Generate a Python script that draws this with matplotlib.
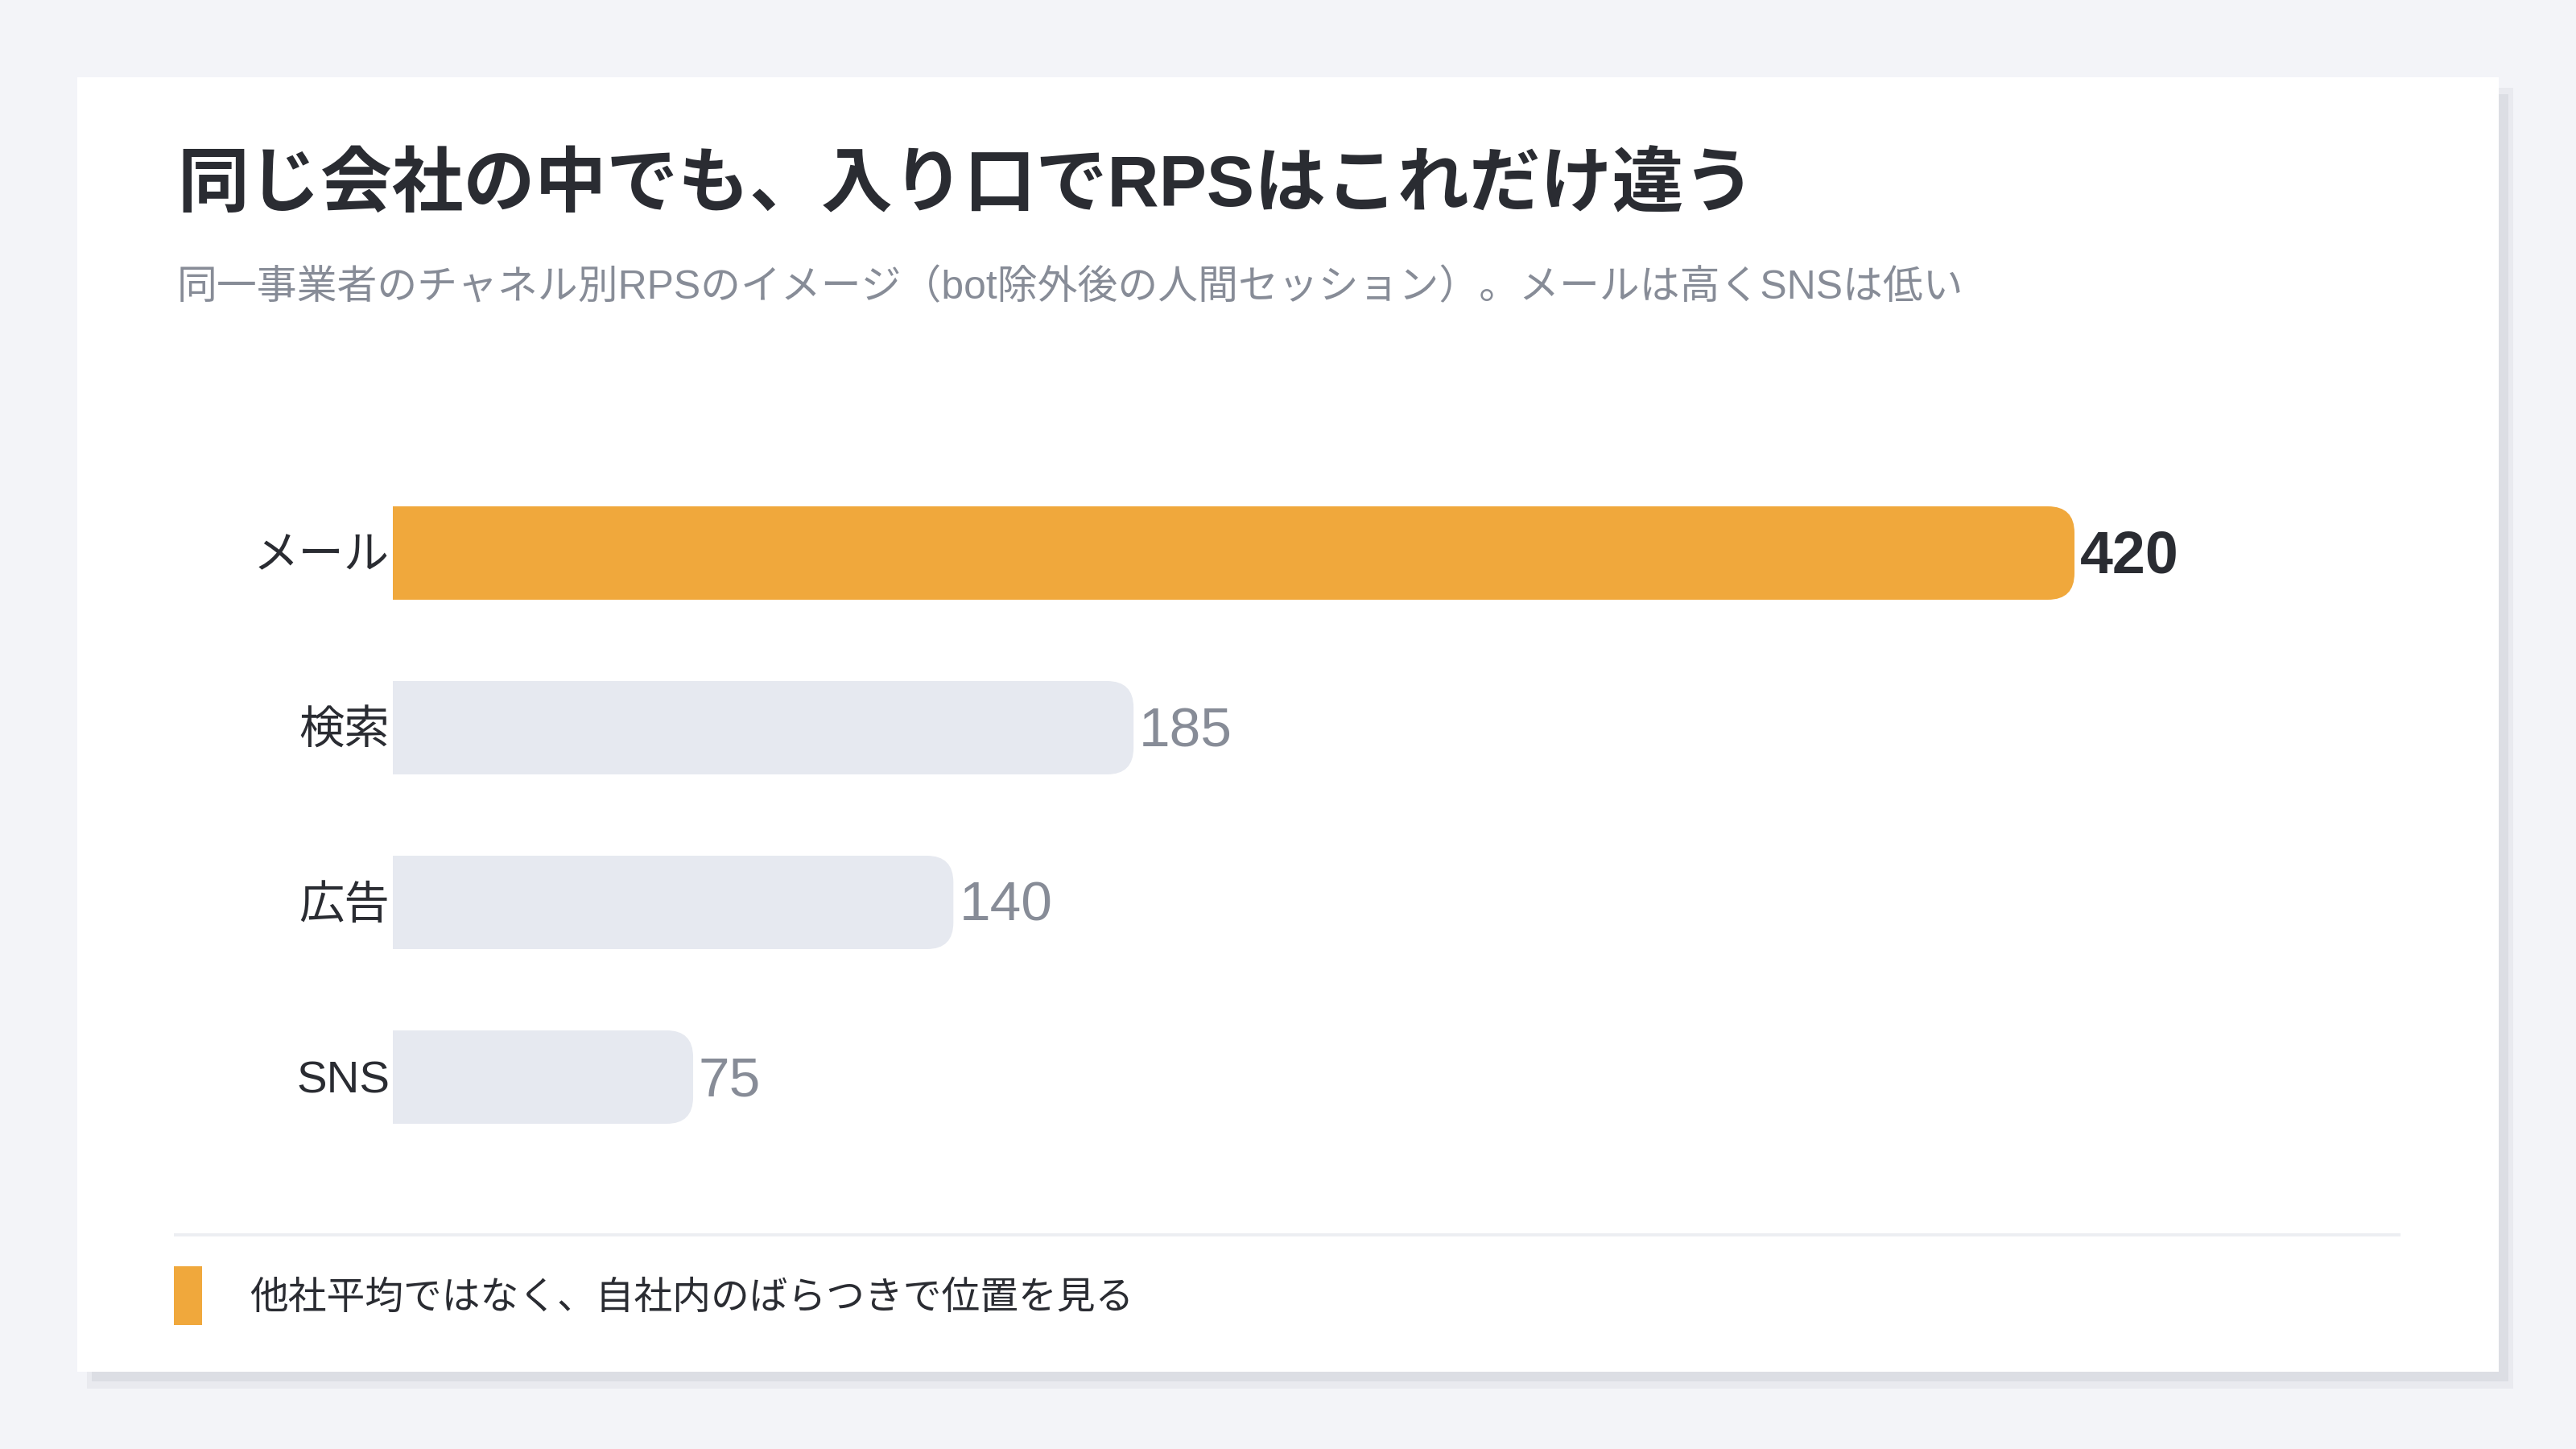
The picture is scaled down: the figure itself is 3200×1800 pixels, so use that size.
import numpy as np
import matplotlib.pyplot as plt
from matplotlib.patches import Rectangle, FancyBboxPatch

plt.rcParams['font.family'] = ['Liberation Sans', 'Noto Sans CJK JP', 'DejaVu Sans']

# data
channels = ['メール', '検索', '広告', 'SNS']
rps = [420, 185, 140, 75]
highlight = 'メール'

title = '同じ会社の中でも、入り口でRPSはこれだけ違う'
subtitle = '同一事業者のチャネル別RPSのイメージ（bot除外後の人間セッション）。メールは高くSNSは低い'
footnote = '他社平均ではなく、自社内のばらつきで位置を見る'

# colours
BG = '#f3f4f8'
ORANGE = '#f0a83c'
GREY_BAR = '#e6e9f0'
DARK = '#2a2c32'
MUTED = '#878c97'

W, H, DPI = 3200, 1800, 200
fig = plt.figure(figsize=(W / DPI, H / DPI), dpi=DPI, facecolor=BG)

# background layer in pixel units
bg = fig.add_axes([0, 0, 1, 1])
bg.set_xlim(0, W)
bg.set_ylim(H, 0)
bg.axis('off')

# card with soft shadow
bg.add_patch(Rectangle((108, 109), 3014, 1616, facecolor='#e9eaef', edgecolor='none'))
bg.add_patch(Rectangle((114, 117), 3002, 1599, facecolor='#dcdee4', edgecolor='none'))
bg.add_patch(Rectangle((96, 96), 3008, 1608, facecolor='white', edgecolor='none'))

bg.text(220, 233, title, fontsize=32, fontweight='bold', color=DARK, va='center', ha='left')
bg.text(220, 358, subtitle, fontsize=17.95, color=MUTED, va='center', ha='left')

# footer
bg.plot([216, 2982], [1534, 1534], color='#eceef2', lw=1.4, solid_capstyle='butt')
bg.add_patch(Rectangle((216, 1573), 35, 73, facecolor=ORANGE, edgecolor='none'))
bg.text(310, 1613, footnote, fontsize=17.2, color=DARK, va='center', ha='left')

# bar chart axes
x_max = 500
ax_left, ax_right = 488, 488 + 2089 / 420 * x_max
row_top, row_bot = 687 - 108.5, 1338 + 108.5
ax = fig.add_axes([ax_left / W, 1 - row_bot / H, (ax_right - ax_left) / W, (row_bot - row_top) / H])
ax.set_xlim(0, x_max)
ax.set_ylim(len(channels) - 0.5, -0.5)
ax.axis('off')
ax.patch.set_alpha(0)

px_per_x = (ax_right - ax_left) / x_max
px_per_y = (row_bot - row_top) / len(channels)
bar_h = 116 / px_per_y
r_px = 33
r_x = r_px / px_per_x
aspect = (r_px / px_per_y) / r_x
dy = 5 / px_per_y  # nudge labels down a touch

ypos = np.arange(len(channels))
for y, name, v in zip(ypos, channels, rps):
    col = ORANGE if name == highlight else GREY_BAR
    ax.barh(y, v - r_x, height=bar_h, color=col, edgecolor='none')
    ax.add_patch(FancyBboxPatch((0, y - bar_h / 2), v, bar_h,
                                boxstyle=f'round,pad=0,rounding_size={r_x}',
                                mutation_aspect=aspect,
                                facecolor=col, edgecolor='none'))
    if name == highlight:
        ax.text(v + 1.4, y + dy, str(v), fontsize=26.5, fontweight='bold', color=DARK,
                va='center', ha='left')
    else:
        ax.text(v + 1.4, y + dy, str(v), fontsize=25, color=MUTED, va='center', ha='left')
    ax.text(-0.8, y + dy, name, fontsize=20.3, color=DARK, va='center', ha='right')

fig.savefig('out.png', dpi=DPI, facecolor=BG)
